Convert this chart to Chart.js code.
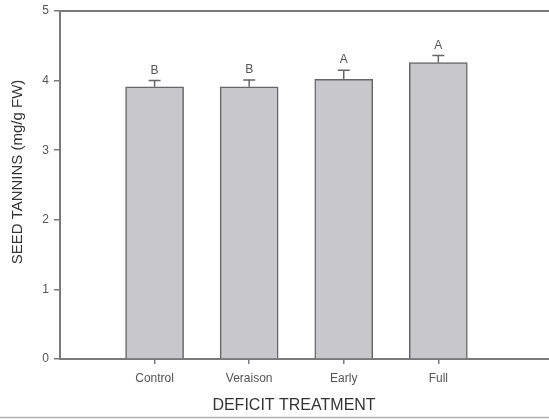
<!DOCTYPE html>
<html>
<head>
<meta charset="utf-8">
<script src="https://cdn.jsdelivr.net/npm/chart.js@4.4.0/dist/chart.umd.min.js"></script>
<style>
  html, body { margin: 0; padding: 0; background: #fff; overflow: hidden; }
  #wrap { width: 549px; height: 419px; }
</style>
</head>
<body>
<div id="wrap"><canvas id="c" width="549" height="419"></canvas></div>
<script>
// Seed tannin means per deficit treatment
const categories = ['Control', 'Veraison', 'Early', 'Full'];
const tannins = [3.91, 3.91, 4.02, 4.26];
const stdErr = [0.09, 0.10, 0.13, 0.10];
const letters = ['B', 'B', 'A', 'A'];
const yTicks = [0, 1, 2, 3, 4, 5];
const xTitle = 'DEFICIT TREATMENT';
const yTitle = 'SEED TANNINS (mg/g FW)';

const axisGray = '#7a7a7a';
const textGray = '#555555';
const font = '"Liberation Sans", Arial, sans-serif';

const points = categories.map((c, i) => ({ x: i + 1, y: tannins[i] }));

// Error bar caps and significance letters above each bar
const errorBars = {
  id: 'errorBars',
  afterDatasetsDraw(chart) {
    const ctx = chart.ctx;
    const xs = chart.scales.x, ys = chart.scales.y;
    ctx.save();
    ctx.strokeStyle = '#666';
    ctx.lineWidth = 1.5;
    ctx.fillStyle = textGray;
    ctx.font = '12px ' + font;
    ctx.textAlign = 'center';
    ctx.textBaseline = 'alphabetic';
    tannins.forEach((v, i) => {
      const x = xs.getPixelForValue(i + 1);
      const yTop = ys.getPixelForValue(v);
      const yErr = ys.getPixelForValue(v + stdErr[i]);
      ctx.beginPath();
      ctx.moveTo(x, yTop);
      ctx.lineTo(x, yErr);
      ctx.moveTo(x - 6, yErr);
      ctx.lineTo(x + 6, yErr);
      ctx.stroke();
      ctx.fillText(letters[i], x, yErr - 7);
    });
    ctx.restore();
  }
};

// Top frame line, axis titles and the rule along the bottom of the figure
const frame = {
  id: 'frame',
  afterDraw(chart) {
    const ctx = chart.ctx;
    const a = chart.chartArea;
    ctx.save();
    ctx.strokeStyle = axisGray;
    ctx.lineWidth = 2;
    ctx.beginPath();
    ctx.moveTo(a.left, a.top);
    ctx.lineTo(chart.width, a.top);
    ctx.stroke();
    ctx.strokeStyle = '#b0b0b0';
    ctx.lineWidth = 1.5;
    ctx.beginPath();
    ctx.moveTo(0, 417.5);
    ctx.lineTo(chart.width, 417.5);
    ctx.stroke();

    ctx.fillStyle = '#333';
    ctx.textAlign = 'center';
    ctx.textBaseline = 'middle';
    ctx.font = '16px ' + font;
    ctx.fillText(xTitle, 294, 406);
    ctx.translate(18, 172);
    ctx.rotate(-Math.PI / 2);
    ctx.font = '15px ' + font;
    ctx.fillText(yTitle, 0, 0);
    ctx.restore();
  }
};

new Chart(document.getElementById('c'), {
  type: 'bar',
  data: {
    datasets: [{
      data: points,
      backgroundColor: '#c8c8ca',
      borderColor: '#666666',
      borderWidth: 1.5,
      barThickness: 58
    }]
  },
  options: {
    responsive: false,
    animation: false,
    layout: { padding: { top: 11, right: 0, bottom: 0, left: 0 } },
    plugins: { legend: { display: false }, tooltip: { enabled: false } },
    scales: {
      x: {
        type: 'linear',
        offset: false,
        min: 0,
        max: 5.17,
        afterBuildTicks(scale) {
          scale.ticks = categories.map((c, i) => ({ value: i + 1 }));
        },
        afterFit(scale) {
          scale.height = 60;
          scale.paddingLeft = 0;
          scale.paddingRight = 0;
        },
        ticks: {
          callback: (v) => categories[v - 1] || '',
          color: textGray,
          font: { family: font, size: 12 },
          padding: 7,
          maxRotation: 0
        },
        grid: {
          display: true,
          offset: false,
          drawOnChartArea: false,
          drawTicks: true,
          tickLength: 5,
          color: axisGray,
          lineWidth: 1.5
        },
        border: { display: true, color: axisGray, width: 2 }
      },
      y: {
        min: 0,
        max: 5,
        afterBuildTicks(scale) {
          scale.ticks = yTicks.map(v => ({ value: v }));
        },
        afterFit(scale) {
          scale.width = 60;
          scale.paddingTop = 0;
          scale.paddingBottom = 0;
        },
        ticks: {
          color: textGray,
          font: { family: font, size: 12 },
          padding: 5
        },
        grid: {
          display: true,
          drawOnChartArea: false,
          drawTicks: true,
          tickLength: 6,
          color: axisGray,
          lineWidth: 1.5
        },
        border: { display: true, color: axisGray, width: 2 }
      }
    }
  },
  plugins: [errorBars, frame]
});
</script>
</body>
</html>
